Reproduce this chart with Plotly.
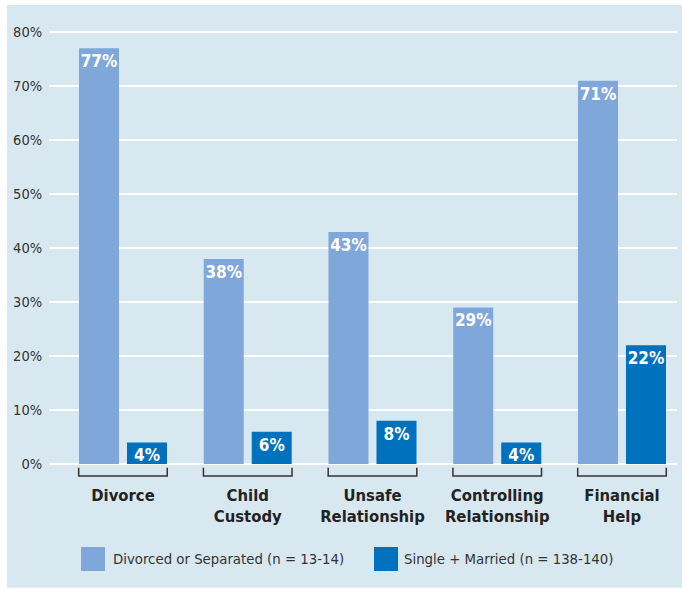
import plotly.graph_objects as go

# Survey results by relationship status
categories = ["Divorce", "Child<br>Custody", "Unsafe<br>Relationship",
              "Controlling<br>Relationship", "Financial<br>Help"]
divorced_separated = [77, 38, 43, 29, 71]
single_married = [4, 6, 8, 4, 22]
series_names = ["Divorced or Separated (n = 13-14)", "Single + Married (n = 138-140)"]
y_ticks = [0, 10, 20, 30, 40, 50, 60, 70, 80]

LIGHT = "#7fa7d9"
DARK = "#0071bc"
PANEL = "#d8e8f1"
TEXT = "#333333"
NARROW = "DejaVu Sans Condensed, Liberation Sans Narrow, Liberation Sans, Arial, sans-serif"

x = list(range(len(categories)))
bar_w = 0.3207

fig = go.Figure()
for vals, color, off, name in [
    (divorced_separated, LIGHT, -0.3527, series_names[0]),
    (single_married, DARK, 0.0321, series_names[1]),
]:
    fig.add_trace(go.Bar(
        x=x, y=vals, width=bar_w, offset=off, name=name,
        marker=dict(color=color, line=dict(width=0)),
        text=[f"{v}%" for v in vals], textposition="inside",
        insidetextanchor="end", textangle=0,
        textfont=dict(family=NARROW, size=17, color="white", weight="bold"),
        showlegend=False, hoverinfo="x+y",
    ))

# Panel background
shapes = [dict(type="rect", xref="paper", yref="paper",
               x0=-0.0669, x1=1.01, y0=-0.248, y1=1.056,
               fillcolor=PANEL, line=dict(width=0), layer="below")]

# Brackets under each category group
for xi in x:
    shapes.append(dict(
        type="path", xref="x", yref="y",
        path=f"M {xi-0.355},-0.7 L {xi-0.355},-2.2 L {xi+0.355},-2.2 L {xi+0.355},-0.7",
        line=dict(color=TEXT, width=1.5),
    ))

# Legend swatches and labels
annotations = []
for (sx0, sx1, tx), color, name in zip(
        [(0.051, 0.0892, 0.0987), (0.5175, 0.5557, 0.5621)], [LIGHT, DARK], series_names):
    shapes.append(dict(type="rect", xref="paper", yref="paper",
                       x0=sx0, x1=sx1, y0=-0.2103, y1=-0.1566,
                       fillcolor=color, line=dict(width=0)))
    annotations.append(dict(xref="paper", yref="paper", x=tx, y=-0.1834,
                            xanchor="left", yanchor="middle", showarrow=False,
                            text=name, font=dict(family=NARROW, size=14.8, color=TEXT)))

fig.update_layout(
    width=682, height=590,
    margin=dict(l=49, r=5, t=30, b=113),
    paper_bgcolor="white", plot_bgcolor="rgba(0,0,0,0)",
    shapes=shapes, annotations=annotations,
    uniformtext=dict(minsize=17, mode="show"),
    xaxis=dict(range=[-0.593, 4.441], tickvals=x, ticktext=[f"<b>{c}</b>" for c in categories],
               showgrid=False, zeroline=False, showline=False,
               ticks="outside", ticklen=3, tickcolor="rgba(0,0,0,0)",
               tickfont=dict(family=NARROW, size=16.5, color="#222222")),
    yaxis=dict(range=[-2.4, 80.4], tickvals=y_ticks, ticktext=[f"{t}%" for t in y_ticks],
               showgrid=True, gridcolor="white", gridwidth=1.5, zeroline=False,
               showline=False, ticks="outside", ticklen=3, tickcolor="rgba(0,0,0,0)",
               tickfont=dict(family=NARROW, size=14.5, color=TEXT)),
)

fig.write_html("out.html")
